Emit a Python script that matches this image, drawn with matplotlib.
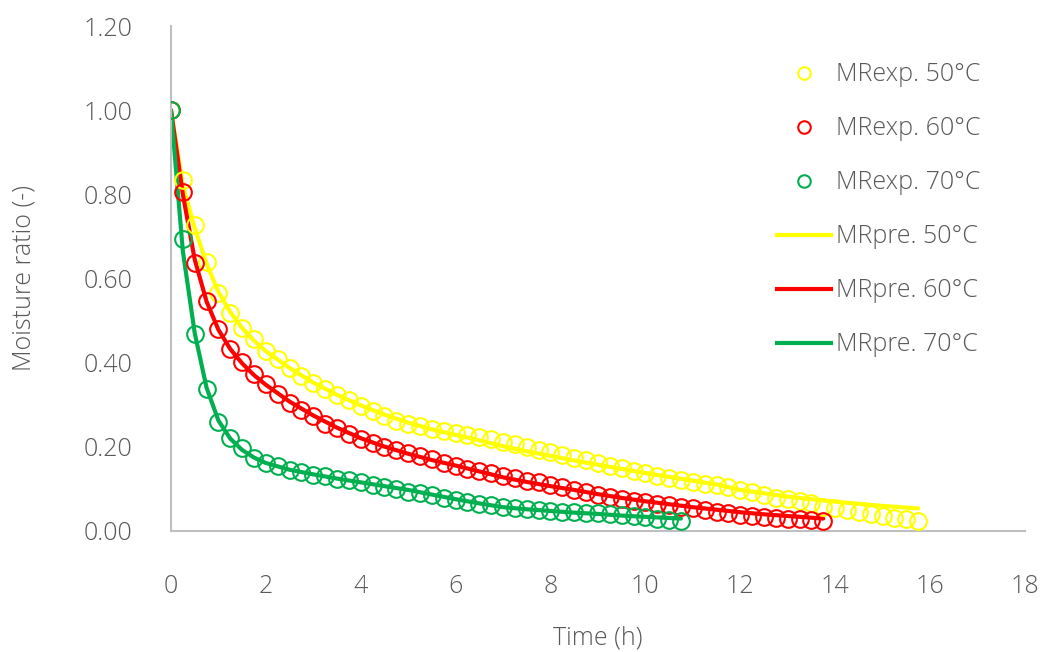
import matplotlib
matplotlib.use("Agg")
import matplotlib.pyplot as plt
from matplotlib.lines import Line2D

plt.rcParams['font.family'] = ['Open Sans', 'DejaVu Sans']
plt.rcParams['font.weight'] = 'light'
plt.rcParams['axes.labelweight'] = 'light'

# Measured moisture ratio, sampled every 0.25 h
step = 0.25
mr_exp_50 = [1.000, 0.834, 0.726, 0.638, 0.565, 0.517, 0.483, 0.456, 0.428, 0.408,
             0.386, 0.368, 0.352, 0.336, 0.323, 0.311, 0.296, 0.284, 0.272, 0.262,
             0.254, 0.248, 0.243, 0.237, 0.232, 0.227, 0.222, 0.217, 0.211, 0.206,
             0.199, 0.193, 0.187, 0.181, 0.173, 0.167, 0.161, 0.155, 0.149, 0.143,
             0.137, 0.131, 0.126, 0.121, 0.117, 0.111, 0.108, 0.103, 0.097, 0.092,
             0.085, 0.079, 0.076, 0.071, 0.065, 0.057, 0.053, 0.049, 0.044, 0.039,
             0.036, 0.031, 0.028, 0.024]
mr_exp_60 = [1.000, 0.805, 0.636, 0.547, 0.480, 0.432, 0.401, 0.373, 0.350, 0.324,
             0.304, 0.288, 0.272, 0.254, 0.244, 0.230, 0.217, 0.209, 0.199, 0.193,
             0.185, 0.177, 0.170, 0.162, 0.155, 0.147, 0.143, 0.137, 0.130, 0.125,
             0.119, 0.115, 0.109, 0.103, 0.097, 0.092, 0.085, 0.081, 0.076, 0.071,
             0.068, 0.063, 0.060, 0.057, 0.053, 0.049, 0.045, 0.041, 0.037, 0.036,
             0.033, 0.031, 0.029, 0.028, 0.026, 0.023]
mr_exp_70 = [1.000, 0.693, 0.468, 0.336, 0.259, 0.221, 0.197, 0.174, 0.161, 0.153,
             0.145, 0.139, 0.133, 0.129, 0.124, 0.121, 0.115, 0.109, 0.103, 0.100,
             0.093, 0.089, 0.084, 0.079, 0.073, 0.068, 0.063, 0.060, 0.057, 0.053,
             0.051, 0.049, 0.047, 0.045, 0.044, 0.041, 0.041, 0.039, 0.037, 0.036,
             0.033, 0.029, 0.026, 0.023]

# Model-predicted moisture ratio
t_pre_50 = [0, 0.25, 0.5, 0.75, 1.0, 1.25, 1.5, 1.75, 2.0, 2.5, 3.0, 3.5, 4.0, 4.5,
            5.0, 5.5, 6.0, 6.5, 7.0, 7.5, 8.0, 8.5, 9.0, 9.5, 10.0, 10.5, 11.0,
            11.5, 12.0, 12.5, 13.0, 13.5, 14.0, 14.5, 15.0, 15.75]
mr_pre_50 = [1.000, 0.820, 0.720, 0.635, 0.568, 0.520, 0.482, 0.452, 0.427, 0.387,
             0.352, 0.323, 0.298, 0.276, 0.257, 0.241, 0.228, 0.215, 0.201, 0.189,
             0.178, 0.167, 0.157, 0.147, 0.137, 0.128, 0.119, 0.110, 0.097, 0.089,
             0.081, 0.075, 0.069, 0.064, 0.059, 0.053]
t_pre_60 = [0, 0.25, 0.5, 0.75, 1.0, 1.25, 1.5, 1.75, 2.0, 2.5, 3.0, 3.5, 4.0, 4.5,
            5.0, 5.5, 6.0, 6.5, 7.0, 7.5, 8.0, 8.5, 9.0, 9.5, 10.0, 10.5, 11.0,
            11.5, 12.0, 12.5, 13.0, 13.75]
mr_pre_60 = [1.000, 0.800, 0.645, 0.545, 0.478, 0.432, 0.398, 0.370, 0.347, 0.307,
             0.274, 0.245, 0.220, 0.200, 0.183, 0.168, 0.155, 0.141, 0.127, 0.116,
             0.106, 0.097, 0.087, 0.078, 0.070, 0.063, 0.056, 0.050, 0.044, 0.039,
             0.035, 0.029]
t_pre_70 = [0, 0.25, 0.5, 0.75, 1.0, 1.25, 1.5, 1.75, 2.0, 2.5, 3.0, 3.5, 4.0, 4.5,
            5.0, 5.5, 6.0, 6.5, 7.0, 7.5, 8.0, 8.5, 9.0, 9.5, 10.0, 10.75]
mr_pre_70 = [1.000, 0.665, 0.470, 0.340, 0.262, 0.219, 0.192, 0.174, 0.161, 0.145,
             0.134, 0.124, 0.115, 0.106, 0.097, 0.086, 0.075, 0.065, 0.056, 0.051,
             0.047, 0.043, 0.040, 0.036, 0.033, 0.029]

x_ticks = [0, 2, 4, 6, 8, 10, 12, 14, 16, 18]
y_ticks = [0.0, 0.2, 0.4, 0.6, 0.8, 1.0, 1.2]

colors = {"50": "#FFFF00", "60": "#FF0000", "70": "#00B050"}
text_color = "#595959"
fs = 18

fig = plt.figure(figsize=(10.49, 6.52), dpi=100)
ax = fig.add_axes([0.163, 0.186, 0.814, 0.774])

def times(values):
    return [i * step for i in range(len(values))]

handles = []
for key, vals in (("50", mr_exp_50), ("60", mr_exp_60), ("70", mr_exp_70)):
    ax.plot(times(vals), vals, linestyle="none", marker="o", markersize=12,
            markerfacecolor="none", markeredgecolor=colors[key],
            markeredgewidth=1.5, zorder=3)
    handles.append(Line2D([], [], linestyle="none", marker="o", markersize=9,
                          markerfacecolor="none", markeredgecolor=colors[key],
                          markeredgewidth=1.5, label=f"MRexp. {key}°C"))

for key, tt, vals in (("50", t_pre_50, mr_pre_50), ("60", t_pre_60, mr_pre_60),
                      ("70", t_pre_70, mr_pre_70)):
    ax.plot(tt, vals, color=colors[key], linewidth=3, solid_capstyle="round", zorder=2)
    handles.append(Line2D([], [], color=colors[key], linewidth=3,
                          label=f"MRpre. {key}°C"))

ax.set_xlim(0, 18)
ax.set_ylim(0, 1.2)
ax.set_xticks(x_ticks)
ax.set_xticklabels([str(v) for v in x_ticks])
ax.set_yticks(y_ticks)
ax.set_yticklabels([f"{v:.2f}" for v in y_ticks])
ax.tick_params(axis="both", length=0, labelsize=fs, labelcolor=text_color)
ax.tick_params(axis="x", pad=31)
ax.tick_params(axis="y", pad=28)

for side in ("top", "right"):
    ax.spines[side].set_visible(False)
for side in ("left", "bottom"):
    ax.spines[side].set_color("#BFBFBF")
    ax.spines[side].set_linewidth(1.5)

ax.set_xlabel("Time (h)", fontsize=fs, color=text_color, fontweight="light",
              labelpad=19)
ax.set_ylabel("Moisture ratio (-)", fontsize=fs, color=text_color,
              fontweight="light", labelpad=34)

leg = ax.legend(handles=handles, loc="upper left", bbox_to_anchor=(0.698, 0.948),
                frameon=False, fontsize=fs, labelcolor=text_color,
                handlelength=2.16, handletextpad=0.2, labelspacing=1.16,
                borderaxespad=0)

fig.savefig("out.png", dpi=100, facecolor="white")
